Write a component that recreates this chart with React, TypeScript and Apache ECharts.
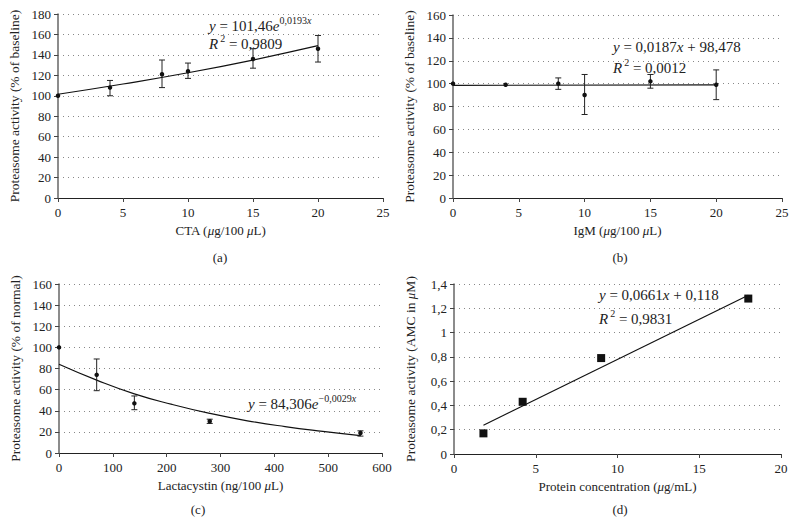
import React, { useEffect, useRef } from "react";
import * as echarts from "echarts";

// Panel (a) CTA
const ctaX = [0, 4, 8, 10, 15, 20];
const ctaY = [100, 108, 121, 124, 136, 146];
const ctaLow = [100, 100, 108, 117, 127, 133];
const ctaHigh = [100, 115, 135, 132, 146, 159];
const ctaTrend = [[0, 101.5], [5, 111.5], [10, 122.5], [15, 135], [20, 149]];

// Panel (b) IgM
const igmX = [0, 4, 8, 10, 15, 20];
const igmY = [100, 99, 100, 90, 102, 99];
const igmLow = [100, 99, 95, 73, 96, 86];
const igmHigh = [100, 99, 105, 108, 108, 112];
const igmTrend = [[0, 98.5], [20, 98.9]];

// Panel (c) Lactacystin
const lacX = [0, 70, 140, 280, 560];
const lacY = [100, 74, 47, 30, 19];
const lacLow = [100, 59, 41, 28, 16];
const lacHigh = [100, 89, 54, 32, 21];
const lacTrend = [[0, 84], [70, 69], [140, 56], [210, 46], [280, 37.5], [350, 30.5], [420, 25], [490, 20.5], [560, 16.5]];

// Panel (d) Protein concentration
const protX = [1.8, 4.2, 9, 18];
const protY = [0.17, 0.43, 0.79, 1.28];
const protTrend = [[1.8, 0.237], [18, 1.308]];

const FONT = "Liberation Serif";
const TXT = "#222";
const FS = 13;
const EQ = 15;

const zip = (xs: number[], ys: number[]) => xs.map((x, i) => [x, ys[i]]);
const zipErr = (xs: number[], lo: number[], hi: number[]) => xs.map((x, i) => [x, lo[i], hi[i]]);

const grids = [
  { left: 58, top: 14, width: 325, height: 184 },
  { left: 453, top: 15, width: 329, height: 183 },
  { left: 59, top: 284, width: 323, height: 169 },
  { left: 454, top: 284, width: 327, height: 170 },
];

const axisTick = { show: true, length: 4, lineStyle: { color: "#444" } };
const labelStyle = { color: TXT, fontFamily: FONT, fontSize: FS };
const nameStyle = { color: TXT, fontFamily: FONT, fontSize: FS };
const nameRich = {
  mu: { fontStyle: "italic", fontFamily: FONT, fontSize: FS, color: TXT },
};

function xAxis(i: number, max: number, interval: number, name: string, fmt?: (v: number) => string) {
  return {
    type: "value",
    gridIndex: i,
    min: 0,
    max,
    interval,
    name,
    nameLocation: "middle",
    nameGap: 26,
    nameTextStyle: { ...nameStyle, rich: nameRich },
    axisLine: { show: true, lineStyle: { color: "#222", width: 1.2 } },
    axisTick,
    axisLabel: { ...labelStyle, margin: 8, formatter: fmt },
    splitLine: { show: false },
  };
}

function yAxis(i: number, max: number, interval: number, name: string, fmt?: (v: number) => string) {
  return {
    type: "value",
    gridIndex: i,
    min: 0,
    max,
    interval,
    name,
    nameLocation: "middle",
    nameGap: 37,
    nameTextStyle: { ...nameStyle, fontSize: 13.5, rich: nameRich },
    axisLine: { show: true, lineStyle: { color: "#666", width: 1.5 } },
    axisTick,
    axisLabel: { ...labelStyle, margin: 7, formatter: fmt },
    splitLine: { show: true, lineStyle: { color: "#888", width: 1, type: [1, 4] } },
  };
}

function errSeries(i: number, data: number[][]) {
  return {
    type: "custom",
    xAxisIndex: i,
    yAxisIndex: i,
    data,
    silent: true,
    z: 3,
    renderItem: (params: any, api: any) => {
      const x = api.value(0);
      const lo = api.coord([x, api.value(1)]);
      const hi = api.coord([x, api.value(2)]);
      if (Math.abs(lo[1] - hi[1]) < 1) return { type: "group", children: [] };
      const w = 3;
      const st = { stroke: "#222", lineWidth: 1 };
      return {
        type: "group",
        children: [
          { type: "line", shape: { x1: lo[0], y1: lo[1], x2: hi[0], y2: hi[1] }, style: st },
          { type: "line", shape: { x1: lo[0] - w, y1: lo[1], x2: lo[0] + w, y2: lo[1] }, style: st },
          { type: "line", shape: { x1: hi[0] - w, y1: hi[1], x2: hi[0] + w, y2: hi[1] }, style: st },
        ],
      };
    },
  };
}

function pts(i: number, data: number[][], symbol = "circle", size = 4.5) {
  return {
    type: "scatter",
    xAxisIndex: i,
    yAxisIndex: i,
    data,
    symbol,
    symbolSize: size,
    itemStyle: { color: "#111", opacity: 1 },
    z: 4,
  };
}

function trend(i: number, data: number[][], smooth = false) {
  return {
    type: "line",
    xAxisIndex: i,
    yAxisIndex: i,
    data,
    smooth,
    showSymbol: false,
    symbol: "none",
    lineStyle: { color: "#111", width: 1.2 },
    z: 2,
  };
}

const eqRich = {
  n: { fontFamily: FONT, fontSize: EQ, color: TXT, lineHeight: 16, verticalAlign: "bottom" },
  i: { fontFamily: FONT, fontSize: EQ, color: TXT, fontStyle: "italic", lineHeight: 16, verticalAlign: "bottom" },
  s: { fontFamily: FONT, fontSize: 10, color: TXT, lineHeight: 11, verticalAlign: "bottom", padding: [0, 0, 8, 0] },
  s2: { fontFamily: FONT, fontSize: 10, color: TXT, lineHeight: 11, verticalAlign: "bottom", padding: [0, 0, 8, 2] },
  si: { fontFamily: FONT, fontSize: 10, color: TXT, fontStyle: "italic", lineHeight: 11, verticalAlign: "bottom", padding: [0, 0, 8, 0] },
};

// (x, y) = left edge, vertical centre of the main text
function eq(x: number, y: number, text: string) {
  return {
    type: "text",
    x,
    y: y + 8,
    style: { text, rich: eqRich, fill: TXT, verticalAlign: "bottom" },
  };
}

function caption(x: number, y: number, text: string) {
  return {
    type: "text",
    x,
    y,
    style: { text, font: `${FS}px "${FONT}"`, fill: TXT, align: "center", verticalAlign: "middle" },
  };
}

const commaFmt = (d: number) => (v: number) => {
  if (v === 0) return "0";
  if (Math.abs(v - Math.round(v)) < 1e-9) return String(Math.round(v));
  return v.toFixed(d).replace(".", ",");
};

export default function App() {
  const ref = useRef<HTMLDivElement>(null);
  useEffect(() => {
    if (!ref.current) return;
    const chart = echarts.init(ref.current, undefined, { renderer: "svg" });
    chart.setOption({
      animation: false,
      backgroundColor: "#fff",
      grid: grids,
      xAxis: [
        xAxis(0, 25, 5, "CTA ({mu|μ}g/100 {mu|μ}L)"),
        xAxis(1, 25, 5, "IgM ({mu|μ}g/100 {mu|μ}L)"),
        xAxis(2, 600, 100, "Lactacystin (ng/100 {mu|μ}L)"),
        xAxis(3, 20, 5, "Protein concentration ({mu|μ}g/mL)"),
      ],
      yAxis: [
        yAxis(0, 180, 20, "Proteasome activity (% of baseline)"),
        yAxis(1, 160, 20, "Proteasome activity (% of baseline)"),
        yAxis(2, 160, 20, "Proteasome activity (% of normal)"),
        yAxis(3, 1.4, 0.2, "Proteasome activity (AMC in {mu|μ}M)", commaFmt(1)),
      ],
      series: [
        trend(0, ctaTrend, true),
        errSeries(0, zipErr(ctaX, ctaLow, ctaHigh)),
        pts(0, zip(ctaX, ctaY)),
        trend(1, igmTrend),
        errSeries(1, zipErr(igmX, igmLow, igmHigh)),
        pts(1, zip(igmX, igmY)),
        trend(2, lacTrend, true),
        errSeries(2, zipErr(lacX, lacLow, lacHigh)),
        pts(2, zip(lacX, lacY)),
        trend(3, protTrend),
        pts(3, zip(protX, protY), "rect", 8),
      ],
      graphic: [
        eq(209, 25, "{i|y}{n| = 101,46}{i|e}{s|0,0193}{si|x}"),
        eq(209, 43, "{i|R}{s2|2}{n| = 0,9809}"),
        eq(613, 46, "{i|y}{n| = 0,0187}{i|x}{n| + 98,478}"),
        eq(613, 67, "{i|R}{s2|2}{n| = 0,0012}"),
        eq(248, 403, "{i|y}{n| = 84,306}{i|e}{s|−0,0029}{si|x}"),
        eq(599, 294, "{i|y}{n| = 0,0661}{i|x}{n| + 0,118}"),
        eq(599, 318, "{i|R}{s2|2}{n| = 0,9831}"),
        caption(220, 257, "(a)"),
        caption(620, 257, "(b)"),
        caption(198, 509, "(c)"),
        caption(620, 509, "(d)"),
      ],
    });
    return () => chart.dispose();
  }, []);
  return <div ref={ref} style={{ width: 796, height: 528, position: "absolute", left: 0, top: 0 }} />;
}
